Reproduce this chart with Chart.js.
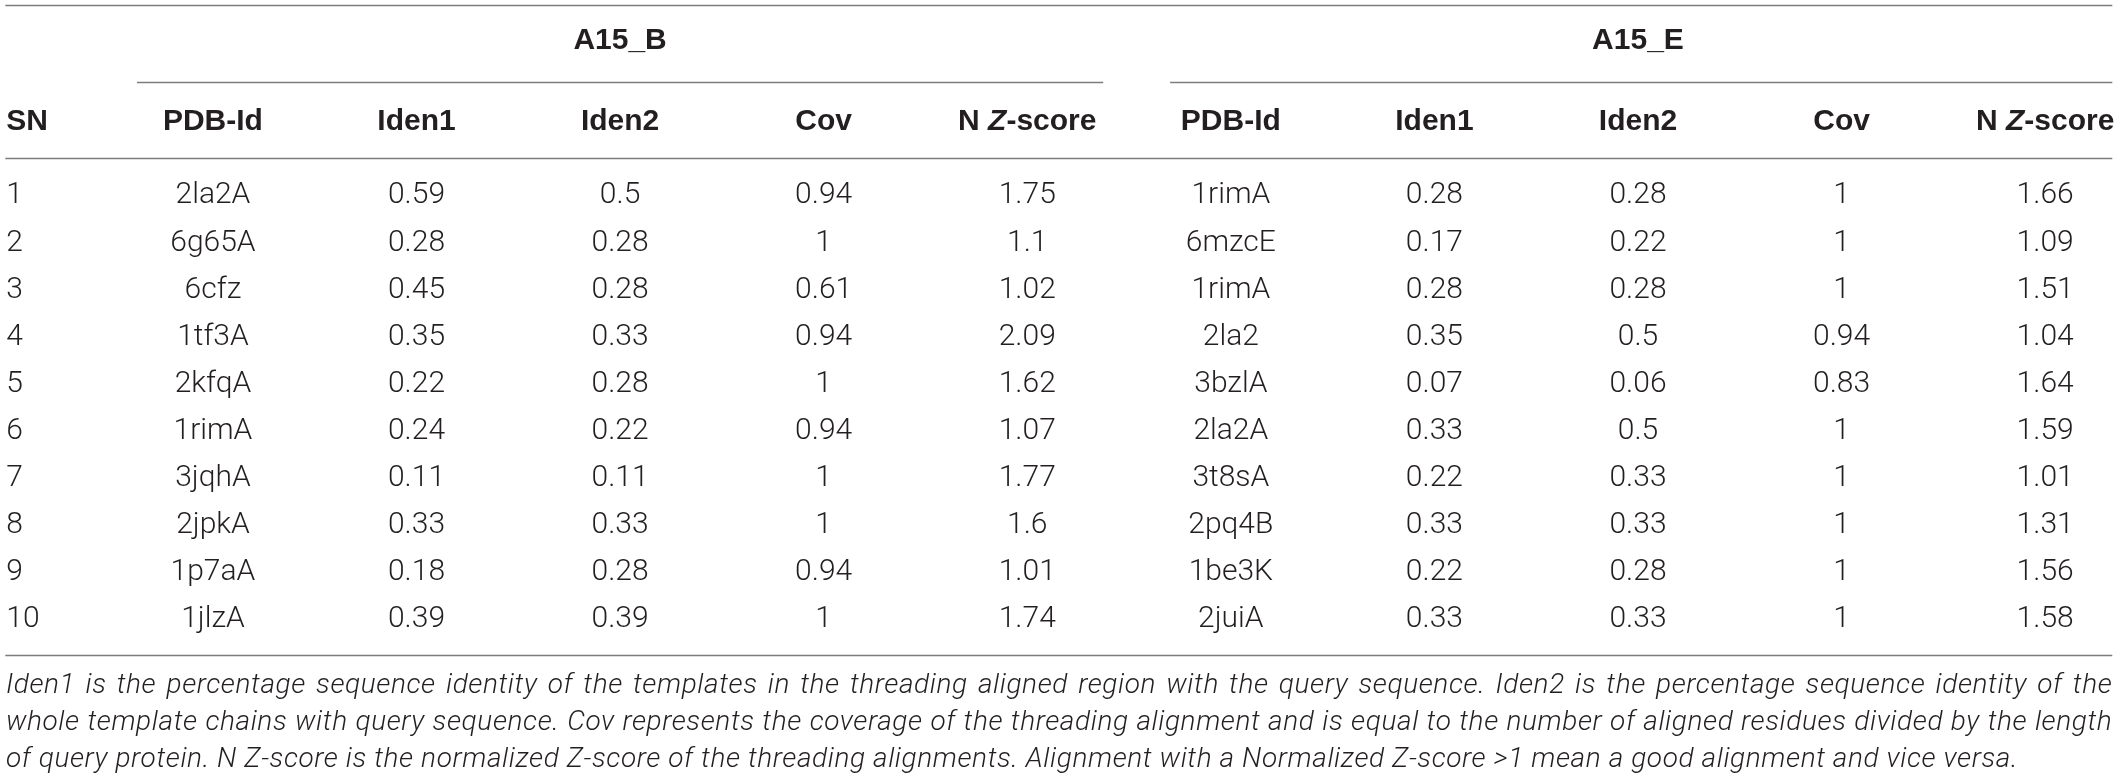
<!DOCTYPE html>
<html lang="en">
<head>
    <meta charset="UTF-8">
    <title>Threading templates table</title>
    <script src="https://cdn.jsdelivr.net/npm/chart.js"></script>
    <style>
        html, body { margin: 0; padding: 0; background: #fff; }
        canvas { display: block; }
    </style>
</head>
<body>
    <canvas id="tableChart" width="2117" height="779"></canvas>
    <script>
        // Table values
        var groups = ['A15_B', 'A15_E'];
        var columns = ['SN', 'PDB-Id', 'Iden1', 'Iden2', 'Cov', 'N Z-score',
                       'PDB-Id', 'Iden1', 'Iden2', 'Cov', 'N Z-score'];
        var sn = [1, 2, 3, 4, 5, 6, 7, 8, 9, 10];

        var pdbB = ['2la2A', '6g65A', '6cfz', '1tf3A', '2kfqA', '1rimA', '3jqhA', '2jpkA', '1p7aA', '1jlzA'];
        var iden1B = [0.59, 0.28, 0.45, 0.35, 0.22, 0.24, 0.11, 0.33, 0.18, 0.39];
        var iden2B = [0.5, 0.28, 0.28, 0.33, 0.28, 0.22, 0.11, 0.33, 0.28, 0.39];
        var covB = [0.94, 1, 0.61, 0.94, 1, 0.94, 1, 1, 0.94, 1];
        var nzB = [1.75, 1.1, 1.02, 2.09, 1.62, 1.07, 1.77, 1.6, 1.01, 1.74];

        var pdbE = ['1rimA', '6mzcE', '1rimA', '2la2', '3bzlA', '2la2A', '3t8sA', '2pq4B', '1be3K', '2juiA'];
        var iden1E = [0.28, 0.17, 0.28, 0.35, 0.07, 0.33, 0.22, 0.33, 0.22, 0.33];
        var iden2E = [0.28, 0.22, 0.28, 0.5, 0.06, 0.5, 0.33, 0.33, 0.28, 0.33];
        var covE = [1, 1, 1, 0.94, 0.83, 1, 1, 1, 1, 1];
        var nzE = [1.66, 1.09, 1.51, 1.04, 1.64, 1.59, 1.01, 1.31, 1.56, 1.58];

        var captionLines = [
            'Iden1 is the percentage sequence identity of the templates in the threading aligned region with the query sequence. Iden2 is the percentage sequence identity of the',
            'whole template chains with query sequence. Cov represents the coverage of the threading alignment and is equal to the number of aligned residues divided by the length',
            'of query protein. N Z-score is the normalized Z-score of the threading alignments. Alignment with a Normalized Z-score >1 mean a good alignment and vice versa.'
        ];

        var tableColumns = [sn, pdbB, iden1B, iden2B, covB, nzB, pdbE, iden1E, iden2E, covE, nzE];

        // Layout (in column / row units of the scales)
        var HEADER_ROW = -0.57;
        var GROUP_ROW = -2.30;
        var TOP_RULE = -3.06;
        var GROUP_RULE = -1.42;
        var HEADER_RULE = 0.19;
        var BOTTOM_RULE = 10.74;
        var CAPTION_ROWS = [11.40, 12.19, 12.97];
        var TEXT_COLOR = '#231f20';
        var RULE_COLOR = '#7d7d7d';
        var DATA_FONT = '300 30px Roboto, "Liberation Sans", sans-serif';
        var HEAD_FONT = 'bold 30px "Liberation Sans", Arial, sans-serif';
        var HEAD_FONT_IT = 'italic bold 30px "Liberation Sans", Arial, sans-serif';
        var CAPTION_FONT = 'italic 300 28px Roboto, "Liberation Sans", sans-serif';

        // One invisible scatter dataset per column; text is drawn at each point
        var datasets = tableColumns.map(function (values, c) {
            return {
                label: columns[c],
                data: values.map(function (v, r) { return { x: c, y: sn[r], text: String(v) }; }),
                pointRadius: 0,
                pointHoverRadius: 0,
                showLine: false
            };
        });

        var xs, ys;

        function drawRule(ctx, y, x0, x1) {
            var py = Math.round(ys(y)) + 0.5;
            ctx.beginPath();
            ctx.moveTo(xs(x0), py);
            ctx.lineTo(xs(x1), py);
            ctx.stroke();
        }

        function drawJustified(ctx, text, left, right, y, justify) {
            var words = text.split(' ');
            if (!justify) {
                ctx.fillText(text, left, y);
                return;
            }
            var total = 0;
            words.forEach(function (w) { total += ctx.measureText(w).width; });
            var gap = (right - left - total) / (words.length - 1);
            var x = left;
            words.forEach(function (w) {
                ctx.fillText(w, x, y);
                x += ctx.measureText(w).width + gap;
            });
        }

        function drawHeader(ctx, label, x, y, align) {
            if (label.indexOf('Z') === -1) {
                ctx.font = HEAD_FONT;
                ctx.textAlign = align;
                ctx.fillText(label, x, y);
                return;
            }
            // N Z-score with the Z in italics
            var parts = ['N ', 'Z', '-score'];
            var fonts = [HEAD_FONT, HEAD_FONT_IT, HEAD_FONT];
            var widths = parts.map(function (p, i) { ctx.font = fonts[i]; return ctx.measureText(p).width; });
            var total = widths[0] + widths[1] + widths[2];
            var px = x - total / 2;
            ctx.textAlign = 'left';
            parts.forEach(function (p, i) {
                ctx.font = fonts[i];
                ctx.fillText(p, px, y);
                px += widths[i];
            });
        }

        var tablePlugin = {
            id: 'tableText',
            afterDatasetsDraw: function (chart) {
                var ctx = chart.ctx;
                var xScale = chart.scales.x;
                var yScale = chart.scales.y;
                xs = function (v) { return xScale.getPixelForValue(v); };
                ys = function (v) { return yScale.getPixelForValue(v); };

                ctx.save();
                ctx.fillStyle = TEXT_COLOR;
                ctx.textBaseline = 'middle';

                // rules
                ctx.strokeStyle = RULE_COLOR;
                ctx.lineWidth = 1.6;
                drawRule(ctx, TOP_RULE, -0.02, 10.33);
                drawRule(ctx, GROUP_RULE, 0.627, 5.373);
                drawRule(ctx, GROUP_RULE, 5.702, 10.33);
                drawRule(ctx, HEADER_RULE, -0.02, 10.33);
                drawRule(ctx, BOTTOM_RULE, -0.02, 10.33);

                // group titles
                ctx.font = HEAD_FONT;
                ctx.textAlign = 'center';
                ctx.fillText(groups[0], xs(3), ys(GROUP_ROW));
                ctx.fillText(groups[1], xs(8), ys(GROUP_ROW));

                // column headers
                columns.forEach(function (label, c) {
                    var x = c === 0 ? xs(c) - 3 : xs(c);
                    drawHeader(ctx, label, x, ys(HEADER_ROW), c === 0 ? 'left' : 'center');
                });

                // cells
                ctx.font = DATA_FONT;
                chart.data.datasets.forEach(function (ds, c) {
                    var meta = chart.getDatasetMeta(c);
                    ctx.textAlign = c === 0 ? 'left' : 'center';
                    meta.data.forEach(function (pt, r) {
                        var x = c === 0 ? pt.x - 3 : pt.x;
                        ctx.fillText(ds.data[r].text, x, pt.y);
                    });
                });

                // caption
                ctx.font = CAPTION_FONT;
                ctx.letterSpacing = '0.6px';
                ctx.textAlign = 'left';
                captionLines.forEach(function (line, i) {
                    drawJustified(ctx, line, xs(-0.017), xs(10.33), ys(CAPTION_ROWS[i]), i < captionLines.length - 1);
                });
                ctx.restore();
            }
        };

        document.fonts.load(DATA_FONT).then(function () {
            return Promise.all([document.fonts.load(HEAD_FONT), document.fonts.load(CAPTION_FONT), document.fonts.load(HEAD_FONT_IT)]);
        }).catch(function () {}).then(function () {
            var ctx = document.getElementById('tableChart').getContext('2d');
            new Chart(ctx, {
                type: 'scatter',
                data: { datasets: datasets },
                options: {
                    responsive: false,
                    animation: false,
                    devicePixelRatio: 1,
                    layout: { padding: 0 },
                    plugins: { legend: { display: false }, tooltip: { enabled: false } },
                    events: [],
                    scales: {
                        x: { type: 'linear', min: -0.046, max: 10.353, display: false },
                        y: { type: 'linear', reverse: true, min: -3.160, max: 13.376, display: false }
                    }
                },
                plugins: [tablePlugin]
            });
        });
    </script>
</body>
</html>
